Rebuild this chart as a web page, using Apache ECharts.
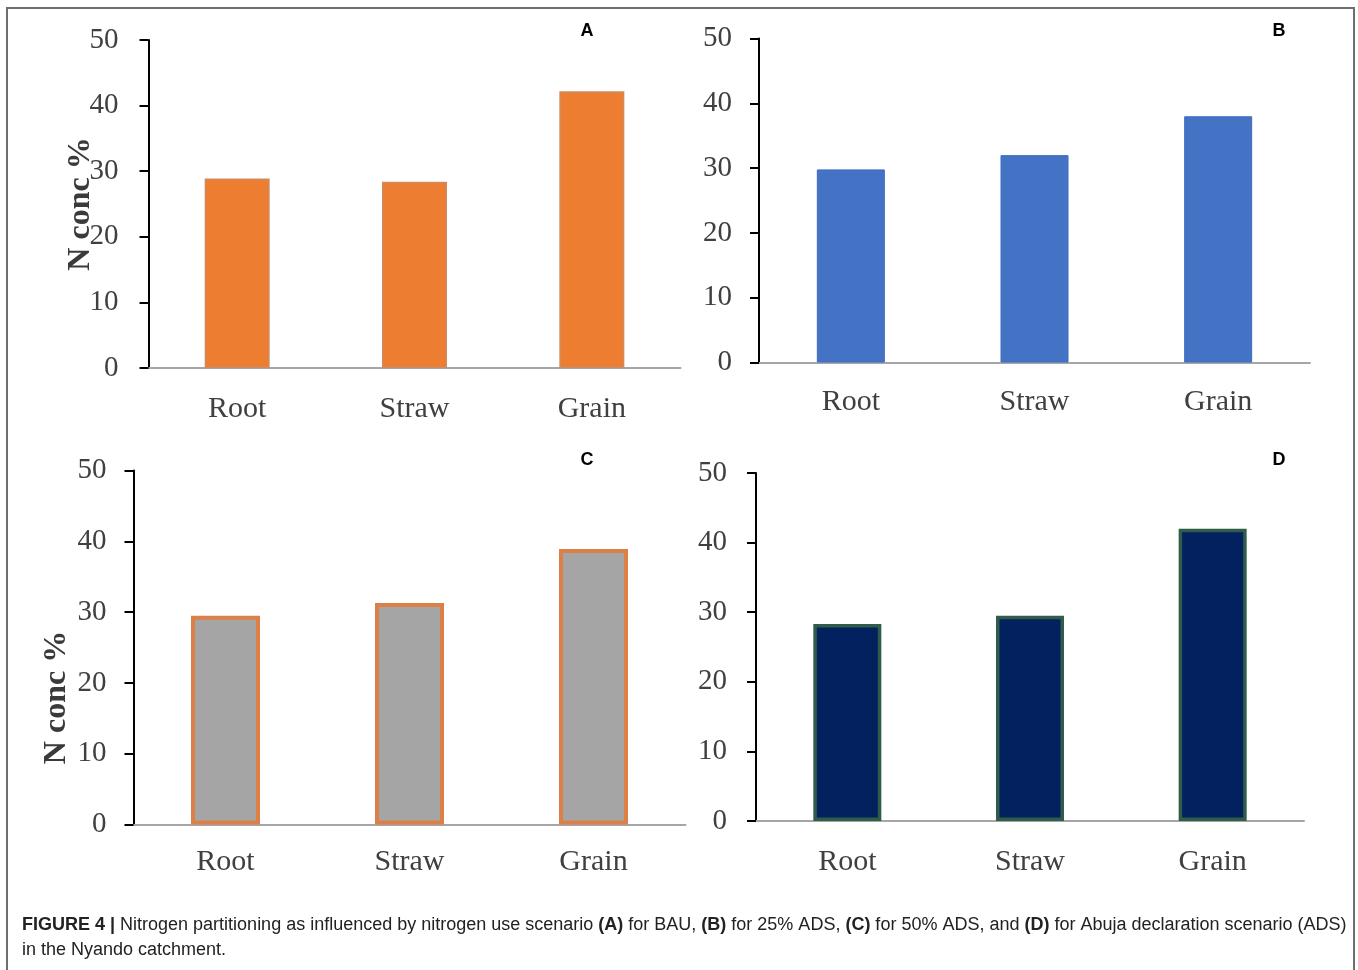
<!DOCTYPE html>
<html>
<head>
<meta charset="utf-8">
<script src="https://cdn.jsdelivr.net/npm/echarts@6/dist/echarts.min.js"></script>
<style>
html,body{margin:0;padding:0;background:#fff;}
#chart{width:1358px;height:970px;}
</style>
</head>
<body>
<div id="chart"></div>
<script>
const categories = ['Root', 'Straw', 'Grain'];
const valuesA = [28.9, 28.4, 42.2];
const valuesB = [29.8, 32.0, 38.0];
const valuesC = [29.5, 31.3, 38.9];
const valuesD = [28.3, 29.5, 42.0];
const yMin = 0, yMax = 50, yStep = 10;
const panelLetters = ['A', 'B', 'C', 'D'];
const yAxisTitle = 'N conc %';
const captionParts = [
  ['b', 'FIGURE 4 |'], ['n', ' Nitrogen partitioning as influenced by nitrogen use scenario '],
  ['b', '(A)'], ['n', ' for BAU, '], ['b', '(B)'], ['n', ' for 25% ADS, '],
  ['b', '(C)'], ['n', ' for 50% ADS, and '], ['b', '(D)'],
  ['n', ' for Abuja declaration scenario (ADS)\nin the Nyando catchment.']
];

const serif = "'Liberation Serif', 'DejaVu Serif', serif";
const sans = "'Liberation Sans', Arial, sans-serif";

const grids = [
  {left: 148.5, top: 40, width: 532, height: 328},
  {left: 759, top: 38.5, width: 551, height: 324},
  {left: 133.5, top: 470.5, width: 552, height: 354},
  {left: 756, top: 473, width: 548, height: 348}
];
const labelMargins = [30, 27, 27, 29];
const xLabelMargins = [26, 25, 23, 26];
const barWidths = [65, 68, 69, 68];

function yAxisFor(i, withName, namePad, noMove) {
  const ax = {
    type: 'value', gridIndex: i, min: yMin, max: yMax, interval: yStep,
    axisLine: {show: true, lineStyle: {color: '#000', width: 2}},
    axisTick: {show: true, length: 9, lineStyle: {color: '#000', width: 2}},
    splitLine: {show: false},
    axisLabel: {fontFamily: serif, fontSize: 29, color: '#404040', margin: labelMargins[i]}
  };
  if (withName) {
    ax.name = yAxisTitle;
    ax.nameLocation = 'middle';
    ax.nameGap = withName;
    if (noMove) ax.nameMoveOverlap = false;
    ax.nameTextStyle = {fontFamily: serif, fontWeight: 'bold', fontSize: 32, color: '#3a3a3a', padding: namePad || 0};
  }
  return ax;
}
function xAxisFor(i) {
  return {
    type: 'category', gridIndex: i, data: categories,
    axisLine: {show: true, lineStyle: {color: '#a6a6a6', width: 2}},
    axisTick: {show: false},
    axisLabel: {fontFamily: serif, fontSize: 30, color: '#404040', margin: xLabelMargins[i]}
  };
}

const seriesData = [valuesA, valuesB, valuesC, valuesD];
const itemStyles = [
  {color: '#ED7D31', borderColor: '#cf8a5f', borderWidth: 1.5},
  {color: '#4472C4', borderColor: '#3f6cc0', borderWidth: 1},
  {color: '#A5A5A5', borderColor: '#dd8048', borderWidth: 4},
  {color: '#03215f', borderColor: '#2f5d4a', borderWidth: 3.5}
];

const letterPos = [[587, 31], [1279, 31], [587, 460], [1279, 460]];

const captionRich = captionParts.map(p => '{' + p[0] + '|' + p[1].replace(/\n/g, '}\n{' + p[0] + '|') + '}').join('');

const option = {
  animation: false,
  backgroundColor: '#fff',
  grid: grids.map(g => Object.assign({containLabel: false}, g)),
  xAxis: [0, 1, 2, 3].map(xAxisFor),
  yAxis: [yAxisFor(0, 52, 0, true), yAxisFor(1), yAxisFor(2, 61, [0, 100, 0, 0]), yAxisFor(3)],
  series: seriesData.map((d, i) => ({
    type: 'bar', xAxisIndex: i, yAxisIndex: i, data: d,
    barWidth: barWidths[i], itemStyle: itemStyles[i],
    emphasis: {disabled: true}
  })),
  graphic: [
    {type: 'rect', shape: {x: 7, y: 8, width: 1347, height: 975},
     style: {fill: 'none', stroke: '#6e6e6e', lineWidth: 2}, silent: true},
    ...panelLetters.map((t, i) => ({
      type: 'text', x: letterPos[i][0], y: letterPos[i][1],
      style: {text: t, fontFamily: sans, fontWeight: 'bold', fontSize: 18, fill: '#000', align: 'center', verticalAlign: 'middle'}
    })),
    {type: 'text', x: 22, y: 913,
     style: {
       text: captionRich, fontFamily: sans, fontSize: 18, fill: '#222', lineHeight: 25,
       rich: {
         b: {fontFamily: sans, fontSize: 18, fontWeight: 'bold', fill: '#222', lineHeight: 25},
         n: {fontFamily: sans, fontSize: 18, fill: '#222', lineHeight: 25}
       }
     }}
  ]
};

const chart = echarts.init(document.getElementById('chart'), null, {renderer: 'canvas'});
chart.setOption(option);
</script>
</body>
</html>
